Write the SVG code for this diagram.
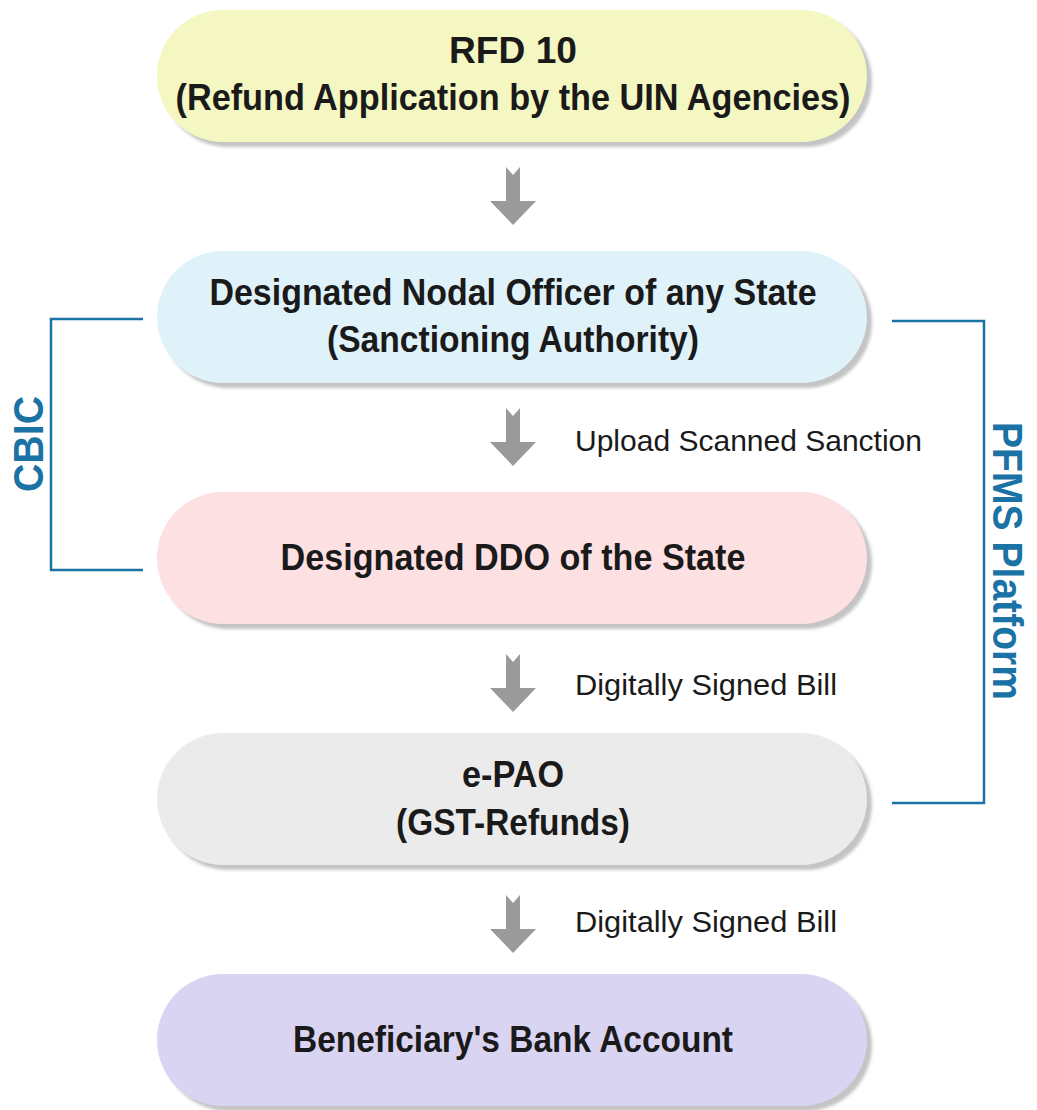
<svg xmlns="http://www.w3.org/2000/svg" width="1037" height="1110" viewBox="0 0 1037 1110">
<style>
.t{font-family:"Liberation Sans Narrow","Liberation Sans",Arial,sans-serif;font-weight:bold;font-size:37px;fill:#1a1a1a;text-anchor:middle}
.l{font-family:"Liberation Sans Narrow","Liberation Sans",Arial,sans-serif;font-size:29px;fill:#1a1a1a}
.b{font-family:"Liberation Sans","Arial",sans-serif;font-weight:bold;font-size:42px;fill:#1a72a5;text-anchor:middle}
.sh{fill:#c4c4c4;filter:url(#blur)}
.br{fill:none;stroke:#1a72a5;stroke-width:2.5}
.ar{fill:#9a9a9a}
</style>
<defs>
<filter id="blur" x="-5%" y="-10%" width="110%" height="130%"><feGaussianBlur stdDeviation="1.5"/></filter>
<path id="arrow" d="M-7,0 L0,8 L7,0 L7,34 L23,34 L0,58 L-23,34 L-7,34 Z"/>
</defs>
<g id="n1">
<rect class="sh" x="162" y="15" width="710" height="132" rx="66"/>
<rect x="157" y="10" width="710" height="132" rx="66" fill="#f4f7c1"/>
<text class="t" x="513" y="63" textLength="128" lengthAdjust="spacingAndGlyphs">RFD 10</text>
<text class="t" x="513" y="110" textLength="675" lengthAdjust="spacingAndGlyphs">(Refund Application by the UIN Agencies)</text>
</g>
<g id="n2">
<rect class="sh" x="162" y="256" width="710" height="132" rx="66"/>
<rect x="157" y="251" width="710" height="132" rx="66" fill="#dff1f9"/>
<text class="t" x="513" y="305" textLength="607" lengthAdjust="spacingAndGlyphs">Designated Nodal Officer of any State</text>
<text class="t" x="513" y="352" textLength="372" lengthAdjust="spacingAndGlyphs">(Sanctioning Authority)</text>
</g>
<g id="n3">
<rect class="sh" x="162" y="497" width="710" height="132" rx="66"/>
<rect x="157" y="492" width="710" height="132" rx="66" fill="#fde0e2"/>
<text class="t" x="513" y="570" textLength="465" lengthAdjust="spacingAndGlyphs">Designated DDO of the State</text>
</g>
<g id="n4">
<rect class="sh" x="162" y="738" width="710" height="132" rx="66"/>
<rect x="157" y="733" width="710" height="132" rx="66" fill="#ebebeb"/>
<text class="t" x="513" y="787" textLength="102" lengthAdjust="spacingAndGlyphs">e-PAO</text>
<text class="t" x="513" y="835" textLength="234" lengthAdjust="spacingAndGlyphs">(GST-Refunds)</text>
</g>
<g id="n5">
<rect class="sh" x="162" y="979" width="710" height="132" rx="66"/>
<rect x="157" y="974" width="710" height="132" rx="66" fill="#dad4f3"/>
<text class="t" x="513" y="1052" textLength="440" lengthAdjust="spacingAndGlyphs">Beneficiary's Bank Account</text>
</g>
<g id="connectors">
<use href="#arrow" class="ar" transform="translate(513,167)"/>
<use href="#arrow" class="ar" transform="translate(513,408)"/>
<use href="#arrow" class="ar" transform="translate(513,654)"/>
<use href="#arrow" class="ar" transform="translate(513,895)"/>
<text class="l" x="575" y="451" textLength="347" lengthAdjust="spacingAndGlyphs">Upload Scanned Sanction</text>
<text class="l" x="575" y="695" textLength="262" lengthAdjust="spacingAndGlyphs">Digitally Signed Bill</text>
<text class="l" x="575" y="932" textLength="262" lengthAdjust="spacingAndGlyphs">Digitally Signed Bill</text>
</g>
<g id="cbic">
<path class="br" d="M143,319 L51,319 L51,570 L143,570"/>
<text class="b" transform="translate(43,444) rotate(-90)" textLength="96" lengthAdjust="spacingAndGlyphs">CBIC</text>
</g>
<g id="pfms">
<path class="br" d="M892,321 L984,321 L984,803 L892,803"/>
<text class="b" transform="translate(993,561) rotate(90)" textLength="278" lengthAdjust="spacingAndGlyphs">PFMS Platform</text>
</g>
</svg>
